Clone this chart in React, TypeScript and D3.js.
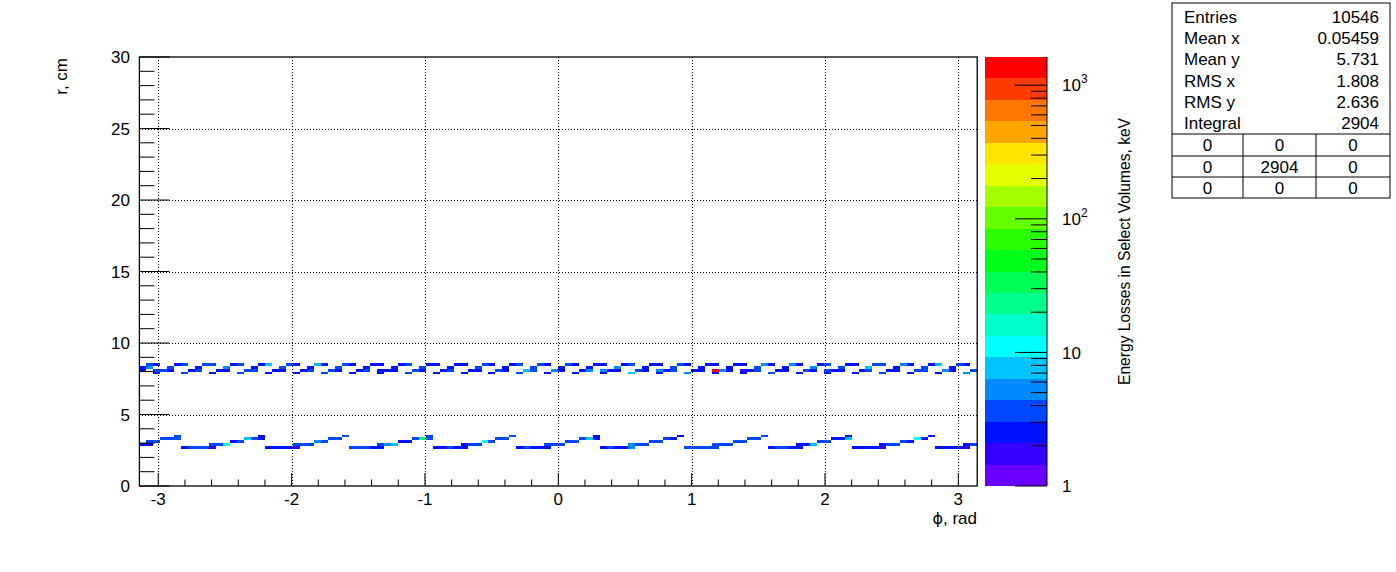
import React from "react";
import * as d3 from "d3";

// ---------- data ----------
const W = 1396;
const H = 572;
const phiDomain: [number, number] = [-Math.PI, Math.PI];
const rDomain: [number, number] = [0, 30];
const nPhiBins = 120;
const rBinWidth = 0.2;
const zMin = 1;
const zMax = 1626;

const xTickValues = [-3, -2, -1, 0, 1, 2, 3];
const yTickValues = [0, 5, 10, 15, 20, 25, 30];

// ROOT-like rainbow palette (20 contours, bottom -> top)
const paletteColors = [
  "#6a00ff", "#3300ff", "#0011ff", "#0048ff", "#008cff",
  "#00c4ff", "#00ffff", "#00ffc8", "#00ff8c", "#00ff55",
  "#00ff1a", "#2aff00", "#66ff00", "#a5ff00", "#e5ff00",
  "#ffe600", "#ffa500", "#ff7700", "#ff3c00", "#ff0000",
];
// code char -> energy (keV)
const levelCodes = "0123456789abcdefghij";
const levelValues = [1.2, 1.74, 2.52, 3.64, 5.27, 7.6, 11.0, 15.9, 23, 33.2, 48, 69.5, 100, 145, 210, 304, 440, 635, 920, 1330];

// lower edges (cm) of the occupied r-rows
const rowLowEdges = [2.6, 2.8, 3.0, 3.2, 3.4, 7.8, 8.0, 8.2, 8.4];

const innerRow26 = ["......23331.", "......22221.", "......33322.", "......22322.", "......23222.", "......23224.", "......33333.", "......23322.", "......22221.", "......22221."];
const innerRow28 = ["22........33", "6.........33", "3.........34", "5.........23", "3.........33", "3.........43", "3.........33", "3.........22", "5.........23", "3.........23"];
const innerRow30 = [".33.........", ".23.........", ".43.........", ".22.........", ".63.........", ".33.........", ".33.........", ".33.........", ".33.........", ".32........."];
const innerRow32 = ["...333......", "...532......", "...33.......", "...393......", "...33.......", "...352......", "...32.......", "...33.......", "...225......", "...62......."];
const innerRow34 = [".....3......", ".....2......", ".....3......", ".....3......", ".....3......", ".....2......", ".....2......", ".....3......", ".....2......", ".....2......"];

const outerRow78 = ["..2.", "..3.", "..2.", "..3.", "..2.", "..2.", "..3.", "..2.", "..2.", "..3.", "..2.", "..2.", "..2.", "..3.", "..2.", "..2.", "..2.", "..5.", "..2.", "..4.", "..2.", "..2.", "..3.", "..2.", "..2.", "..2.", "..3.", "..2.", "..2.", "..4."];
const outerRow80 = ["2.33", "2..2", "3..2", "2..3", "3..2", "2..2", "3..3", "2..2", "3.22", "2..3", "2..2", "3..2", "2..3", "2..5", "3..4", "2..2", "4.42", "2..3", "2.42", "3..2", "2.j4", "2.12", "3..2", "2..3", "2.32", "2..2", "3..2", "2..3", "3..4", "2..3"];
const outerRow82 = ["24..", "3...", "2...", "4...", "2...", "3...", "2...", "3...", "2...", "2...", "3...", "2...", "3...", "2...", "3...", "2...", "2...", "4...", "2...", "3...", "2...", "2...", "3...", "2...", "4...", "3...", "5...", "2...", "3...", "2..."];
const outerRow84 = [".32.", ".23.", ".33.", ".23.", ".25.", ".32.", ".52.", ".32.", ".22.", ".23.", ".22.", ".22.", ".32.", ".23.", ".32.", ".32.", ".22.", ".23.", ".22.", ".32.", ".22.", ".22.", ".42.", ".42.", ".23.", ".22.", ".33.", ".42.", ".25.", ".32."];

const rowCells = [innerRow26, innerRow28, innerRow30, innerRow32, innerRow34, outerRow78, outerRow80, outerRow82, outerRow84].map((g) => g.join(""));

const statLabels = ["Entries", "Mean x", "Mean y", "RMS x", "RMS y", "Integral"];
const statValues = ["10546", "0.05459", "5.731", "1.808", "2.636", "2904"];
const statTable = [["0", "0", "0"], ["0", "2904", "0"], ["0", "0", "0"]];

const FONT = "'Liberation Sans', Arial, Helvetica, sans-serif";

export default function App() {
  const frame = { left: 139.4, right: 977.2, top: 57, bottom: 486 };
  const x = d3.scaleLinear().domain(phiDomain).range([frame.left, frame.right]);
  const y = d3.scaleLinear().domain(rDomain).range([frame.bottom, frame.top]);
  const z = d3.scaleLog().domain([zMin, zMax]).range([frame.bottom, frame.top]);
  const color = d3
    .scaleQuantize<string>()
    .domain([Math.log10(zMin), Math.log10(zMax)])
    .range(paletteColors);

  const dPhi = (phiDomain[1] - phiDomain[0]) / nPhiBins;

  const cells: { x0: number; x1: number; y0: number; y1: number; fill: string; key: string }[] = [];
  rowCells.forEach((s, ri) => {
    const r = rowLowEdges[ri];
    for (let i = 0; i < s.length; i++) {
      const c = s[i];
      if (c === ".") continue;
      const v = levelValues[levelCodes.indexOf(c)];
      cells.push({
        x0: x(phiDomain[0] + i * dPhi),
        x1: x(phiDomain[0] + (i + 1) * dPhi),
        y0: y(r + rBinWidth),
        y1: y(r),
        fill: color(Math.log10(v)),
        key: `${ri}-${i}`,
      });
    }
  });

  // axes ticks
  const yMinor = d3.range(0, 31, 1).filter((v) => v % 5 !== 0);
  const xMinor = d3.range(-3.2, 3.21, 0.2).map((v) => Math.round(v * 10) / 10)
    .filter((v) => v > phiDomain[0] && v < phiDomain[1] && Math.abs(v - Math.round(v)) > 1e-6);

  // palette
  const bar = { left: 984.5, right: 1047 };
  const L = Math.log10(zMax) - Math.log10(zMin);
  const bands = paletteColors.map((c, k) => ({
    c,
    y0: z(Math.pow(10, ((k + 1) * L) / 20)),
    y1: z(Math.pow(10, (k * L) / 20)),
  }));
  const zMajor = [1, 10, 100, 1000];
  const zMinor: number[] = [];
  for (const d of [1, 10, 100, 1000]) for (let m = 2; m <= 9; m++) if (m * d <= zMax) zMinor.push(m * d);

  const statBox = { x: 1172, y: 3, w: 218, h: 195 };
  const tableLines = [134, 156, 177];
  const colDiv = [1243, 1316];
  const colCenters = [(statBox.x + colDiv[0]) / 2, (colDiv[0] + colDiv[1]) / 2, (colDiv[1] + statBox.x + statBox.w) / 2];

  return (
    <svg
      width={W}
      height={H}
      viewBox={`0 0 ${W} ${H}`}
      style={{ position: "absolute", left: 0, top: 0, background: "#fff" }}
      fontFamily={FONT}
    >
      <rect x={0} y={0} width={W} height={H} fill="#fff" />
      {/* cells */}
      <g shapeRendering="crispEdges">
        {cells.map((c) => (
          <rect key={c.key} x={c.x0} y={c.y0} width={c.x1 - c.x0} height={c.y1 - c.y0} fill={c.fill} />
        ))}
      </g>
      {/* grid */}
      <g stroke="#000" strokeWidth={1} strokeDasharray="1,2" shapeRendering="crispEdges">
        {xTickValues.map((v) => (
          <line key={`gx${v}`} x1={Math.round(x(v)) + 0.5} x2={Math.round(x(v)) + 0.5} y1={frame.top} y2={frame.bottom} />
        ))}
        {yTickValues.filter((v) => v > 0 && v < 30).map((v) => (
          <line key={`gy${v}`} x1={frame.left} x2={frame.right} y1={Math.round(y(v)) + 0.5} y2={Math.round(y(v)) + 0.5} />
        ))}
      </g>
      {/* frame */}
      <rect x={frame.left} y={frame.top} width={frame.right - frame.left} height={frame.bottom - frame.top} fill="none" stroke="#000" strokeWidth={1.3} />
      {/* y ticks */}
      <g stroke="#000" strokeWidth={1}>
        {yTickValues.map((v) => (
          <line key={`ty${v}`} x1={frame.left} x2={frame.left + 30} y1={y(v)} y2={y(v)} />
        ))}
        {yMinor.map((v) => (
          <line key={`tym${v}`} x1={frame.left} x2={frame.left + 15} y1={y(v)} y2={y(v)} />
        ))}
        {xTickValues.map((v) => (
          <line key={`tx${v}`} x1={x(v)} x2={x(v)} y1={frame.bottom} y2={frame.bottom - 13} />
        ))}
        {xMinor.map((v) => (
          <line key={`txm${v}`} x1={x(v)} x2={x(v)} y1={frame.bottom} y2={frame.bottom - 6.5} />
        ))}
      </g>
      {/* tick labels */}
      <g fontSize={17} fill="#000">
        {yTickValues.map((v) => (
          <text key={`ly${v}`} x={130} y={y(v)} dy="0.36em" textAnchor="end">{v}</text>
        ))}
        {xTickValues.map((v) => (
          <text key={`lx${v}`} x={x(v)} y={505} textAnchor="middle">{v}</text>
        ))}
      </g>
      {/* axis titles */}
      <text transform="translate(67,58) rotate(-90)" textAnchor="end" fontSize={17}>r, cm</text>
      <text x={977} y={524} textAnchor="end" fontSize={17}>
        <tspan fontSize={16} fontFamily="'DejaVu Sans', sans-serif">ϕ</tspan>, rad
      </text>

      {/* palette */}
      <g shapeRendering="crispEdges">
        {bands.map((b) => (
          <rect key={b.c} x={bar.left} y={b.y0} width={bar.right - bar.left} height={b.y1 - b.y0} fill={b.c} />
        ))}
      </g>
      <g stroke="#000" strokeWidth={1}>
        <line x1={bar.right} x2={bar.right} y1={frame.top} y2={frame.bottom} />
        {zMajor.map((v) => (
          <line key={`zt${v}`} x1={bar.right} x2={bar.right - 32} y1={z(v)} y2={z(v)} />
        ))}
        {zMinor.map((v) => (
          <line key={`ztm${v}`} x1={bar.right} x2={bar.right - 16} y1={z(v)} y2={z(v)} />
        ))}
      </g>
      <g fontSize={17} fill="#000">
        {zMajor.map((v) => {
          const e = Math.round(Math.log10(v));
          return (
            <text key={`zl${v}`} x={1062} y={z(v)} dy="0.36em">
              {e === 0 ? "1" : e === 1 ? "10" : (
                <>
                  10<tspan fontSize={12} dy={-8}>{e}</tspan>
                </>
              )}
            </text>
          );
        })}
      </g>
      <text transform="translate(1130,118) rotate(-90)" textAnchor="end" fontSize={15.6}>
        Energy Losses in Select Volumes, keV
      </text>

      {/* stats box */}
      <g>
        <rect x={statBox.x} y={statBox.y} width={statBox.w} height={statBox.h} fill="#fff" stroke="#000" strokeWidth={1} />
        {statLabels.map((s, i) => (
          <g key={s} fontSize={17}>
            <text x={1184} y={23 + i * 21.2}>{s}</text>
            <text x={1379} y={23 + i * 21.2} textAnchor="end">{statValues[i]}</text>
          </g>
        ))}
        <g stroke="#000" strokeWidth={1}>
          {tableLines.map((ly) => (
            <line key={`tl${ly}`} x1={statBox.x} x2={statBox.x + statBox.w} y1={ly} y2={ly} />
          ))}
          {colDiv.map((cx) => (
            <line key={`cd${cx}`} x1={cx} x2={cx} y1={tableLines[0]} y2={statBox.y + statBox.h} />
          ))}
        </g>
        {statTable.map((row, ri) =>
          row.map((t, ci) => (
            <text key={`st${ri}${ci}`} x={colCenters[ci]} y={151 + ri * 21.5} textAnchor="middle" fontSize={17}>
              {t}
            </text>
          ))
        )}
      </g>
    </svg>
  );
}
